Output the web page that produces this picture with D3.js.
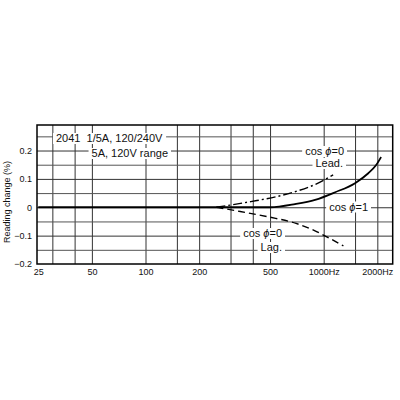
<!DOCTYPE html>
<html>
<head>
<meta charset="utf-8">
<script src="https://cdn.jsdelivr.net/npm/d3@7"></script>
<style>
  body { margin: 0; background: #fff; }
  svg { font-family: 'Liberation Sans', Arial, sans-serif; }
</style>
</head>
<body>
<svg id="chart" width="400" height="400"></svg>
<script>
// ticks and grid
const xTicks = [25, 50, 100, 200, 500, 1000, 2000];
const xTickLabels = ['25', '50', '100', '200', '500', '1000Hz', '2000Hz'];
const xGrid = [30, 40, 50, 100, 150, 200, 300, 400, 500, 1000, 1500, 2000];
const yTicks = [-0.2, -0.1, 0, 0.1, 0.2];
const yGrid = [-0.15, -0.1, -0.05, 0, 0.05, 0.1, 0.15, 0.2, 0.25];

// cos phi = 1
const unityFreq = [25, 200, 500, 690, 895, 1160, 1500, 1780, 1960, 2100];
const unityChange = [0, 0, 0, 0.011, 0.026, 0.053, 0.085, 0.12, 0.147, 0.177];
// cos phi = 0, lead
const leadFreq = [250, 390, 550, 700, 900, 1130];
const leadChange = [0, 0.02, 0.038, 0.056, 0.081, 0.114];
// cos phi = 0, lag
const lagFreq = [250, 340, 500, 700, 900, 1060, 1290];
const lagChange = [0, -0.015, -0.035, -0.057, -0.084, -0.107, -0.136];

const svg = d3.select('#chart');
const plot = { left: 37, right: 392.7, top: 125, bottom: 264 };

const x = d3.scaleLog().domain([24.6, 2440]).range([plot.left, plot.right]);
const y = d3.scaleLinear().domain([-0.2, 0.29]).range([plot.bottom, plot.top]);

svg.append('rect').attr('width', 400).attr('height', 400).attr('fill', '#fff');

// grid
svg.append('g')
  .attr('transform', 'translate(0,' + plot.bottom + ')')
  .call(d3.axisBottom(x).tickValues(xGrid).tickSize(-(plot.bottom - plot.top)).tickFormat(''))
  .call(g => g.select('.domain').remove())
  .call(g => g.selectAll('line').attr('stroke', '#333').attr('stroke-width', 1));

svg.append('g')
  .attr('transform', 'translate(' + plot.left + ',0)')
  .call(d3.axisLeft(y).tickValues(yGrid).tickSize(-(plot.right - plot.left)).tickFormat(''))
  .call(g => g.select('.domain').remove())
  .call(g => g.selectAll('line')
    .attr('stroke', d => (Math.abs(Math.round(d * 100)) % 10 === 5 ? '#555' : '#333'))
    .attr('stroke-width', 1));

// tick labels
svg.append('g')
  .attr('transform', 'translate(0,' + (plot.bottom + 2) + ')')
  .call(d3.axisBottom(x).tickValues(xTicks).tickSize(0)
    .tickFormat((d, i) => xTickLabels[i]))
  .call(g => g.select('.domain').remove())
  .call(g => g.selectAll('text').attr('font-size', '9px').attr('fill', '#111')
    .attr('font-family', "'Liberation Sans', Arial, sans-serif"));

svg.append('g')
  .attr('transform', 'translate(' + (plot.left - 5) + ',0)')
  .call(d3.axisLeft(y).tickValues(yTicks).tickSize(0).tickPadding(0)
    .tickFormat(d => (d === 0 ? '0' : d3.format('.1f')(d))))
  .call(g => g.select('.domain').remove())
  .call(g => g.selectAll('text').attr('font-size', '9px').attr('fill', '#111')
    .attr('font-family', "'Liberation Sans', Arial, sans-serif"));

svg.append('text')
  .attr('transform', 'translate(10,202) rotate(-90)')
  .attr('text-anchor', 'middle')
  .attr('font-size', '9px')
  .attr('fill', '#111')
  .text('Reading change (%)');

// text with white boxes that break the grid
const boxed = (tx, ty, anchor, size, parts) => {
  const g = svg.append('g');
  const bg = g.append('rect').attr('fill', '#fff');
  const t = g.append('text')
    .attr('x', tx).attr('y', ty)
    .attr('text-anchor', anchor)
    .attr('font-size', size + 'px')
    .attr('fill', '#111');
  parts.forEach(p => {
    t.append('tspan').attr('font-style', p.italic ? 'italic' : null).text(p.s);
  });
  const b = t.node().getBBox();
  bg.attr('x', b.x - 3).attr('y', b.y + 1).attr('width', b.width + 6).attr('height', b.height - 1);
};

// curves
const line = d3.line()
  .x(d => x(d[0]))
  .y(d => y(d[1]))
  .curve(d3.curveMonotoneX);

const curves = [
  { f: unityFreq, v: unityChange, dash: null, w: 1.8 },
  { f: leadFreq, v: leadChange, dash: '9,3,2,3', w: 1.4 },
  { f: lagFreq, v: lagChange, dash: '7,4', w: 1.4 },
];

boxed(56, 142, 'start', 11, [{ s: '2041\u00a0\u00a01/5A, 120/240V' }]);
boxed(168, 157, 'end', 11, [{ s: '5A, 120V range' }]);
boxed(344, 155, 'end', 11, [{ s: 'cos ' }, { s: '\u03d5', italic: true }, { s: '=0' }]);
boxed(343, 167, 'end', 11, [{ s: 'Lead.' }]);
boxed(368, 210.5, 'end', 11, [{ s: 'cos ' }, { s: '\u03d5', italic: true }, { s: '=1' }]);
boxed(282, 237, 'end', 11, [{ s: 'cos ' }, { s: '\u03d5', italic: true }, { s: '=0' }]);
boxed(282, 251, 'end', 11, [{ s: 'Lag.' }]);

svg.append('g')
  .selectAll('path')
  .data(curves)
  .enter()
  .append('path')
  .attr('d', c => line(c.f.map((f, i) => [f, c.v[i]])))
  .attr('fill', 'none')
  .attr('stroke', '#000')
  .attr('stroke-width', c => c.w)
  .attr('stroke-dasharray', c => c.dash);

// frame
svg.append('rect')
  .attr('x', plot.left)
  .attr('y', plot.top)
  .attr('width', plot.right - plot.left)
  .attr('height', plot.bottom - plot.top)
  .attr('fill', 'none')
  .attr('stroke', '#000')
  .attr('stroke-width', 1.5);
</script>
</body>
</html>
